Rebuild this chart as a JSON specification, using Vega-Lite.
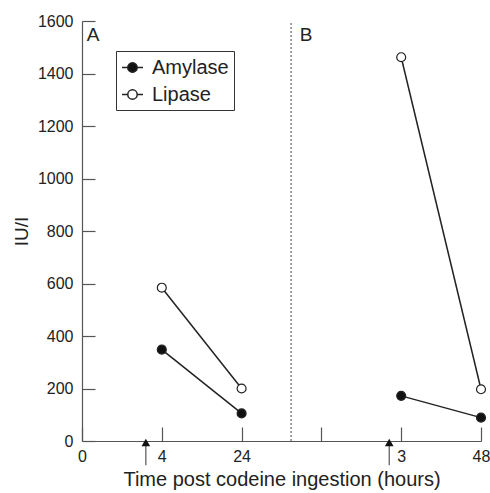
{
  "$schema": "https://vega.github.io/schema/vega-lite/v6.json",
  "width": 399,
  "height": 420,
  "autosize": {"type": "none"},
  "padding": {"left": 82, "top": 21, "right": 9, "bottom": 52},
  "background": "white",
  "config": {
    "view": {"stroke": null},
    "font": "Liberation Sans",
    "axis": {"grid": false, "labelFont": "Liberation Sans", "titleFont": "Liberation Sans", "labelColor": "#222", "titleColor": "#222", "titleFontWeight": "normal", "domainColor": "#555", "tickColor": "#555", "domainWidth": 1.2, "tickWidth": 1.2}
  },
  "datasets": {
    "enzymes": [
      {"series": "Amylase", "panel": "A", "time": "4", "slot": 1, "value": 348},
      {"series": "Amylase", "panel": "A", "time": "24", "slot": 2, "value": 105},
      {"series": "Lipase", "panel": "A", "time": "4", "slot": 1, "value": 584},
      {"series": "Lipase", "panel": "A", "time": "24", "slot": 2, "value": 200},
      {"series": "Amylase", "panel": "B", "time": "3", "slot": 4, "value": 172},
      {"series": "Amylase", "panel": "B", "time": "48", "slot": 5, "value": 89},
      {"series": "Lipase", "panel": "B", "time": "3", "slot": 4, "value": 1462},
      {"series": "Lipase", "panel": "B", "time": "48", "slot": 5, "value": 197}
    ],
    "divider": [{"slot": 2.62}],
    "arrows": [{"slot": 0.8}, {"slot": 3.85}],
    "panels": [{"label": "A", "slot": 0.06, "value": 1545}, {"label": "B", "slot": 2.73, "value": 1545}]
  },
  "layer": [
    {
      "data": {"name": "divider"},
      "mark": {"type": "rule", "strokeDash": [2, 2], "stroke": "#444", "strokeWidth": 1},
      "encoding": {
        "x": {"field": "slot", "type": "quantitative"},
        "y": {"datum": 0},
        "y2": {"datum": 1600}
      }
    },
    {
      "data": {"name": "arrows"},
      "mark": {"type": "rule", "stroke": "#555", "strokeWidth": 1.2},
      "encoding": {
        "x": {"field": "slot", "type": "quantitative"},
        "y": {"datum": -92},
        "y2": {"datum": -4}
      }
    },
    {
      "data": {"name": "arrows"},
      "mark": {"type": "point", "shape": "triangle-up", "filled": true, "color": "#111", "size": 75, "opacity": 1},
      "encoding": {
        "x": {"field": "slot", "type": "quantitative"},
        "y": {"datum": -6}
      }
    },
    {
      "data": {"name": "panels"},
      "mark": {"type": "text", "align": "left", "baseline": "middle", "fontSize": 19, "color": "#222", "font": "Liberation Sans"},
      "encoding": {
        "x": {"field": "slot", "type": "quantitative"},
        "y": {"field": "value", "type": "quantitative"},
        "text": {"field": "label"}
      }
    },
    {
      "data": {"name": "enzymes"},
      "mark": {"type": "line", "color": "#222", "strokeWidth": 1.5},
      "encoding": {
        "x": {"field": "slot", "type": "quantitative"},
        "y": {"field": "value", "type": "quantitative"},
        "detail": [{"field": "series"}, {"field": "panel"}]
      }
    },
    {
      "data": {"name": "enzymes"},
      "mark": {"type": "point", "filled": true, "stroke": "#222", "strokeWidth": 1.2, "size": 80, "opacity": 1},
      "encoding": {
        "x": {
          "field": "slot", "type": "quantitative",
          "scale": {"domain": [0, 5], "nice": false, "zero": false},
          "axis": {"title": "Time post codeine ingestion (hours)", "values": [0, 1, 2, 3, 4, 5], "labelExpr": "datum.value == 0 ? '0' : datum.value == 1 ? '4' : datum.value == 2 ? '24' : datum.value == 4 ? '3' : datum.value == 5 ? '48' : ''", "tickSize": -14, "labelPadding": 21, "labelFontSize": 16, "titleFontSize": 20, "titlePadding": 5, "labelFlush": false, "labelOverlap": false}
        },
        "y": {
          "field": "value", "type": "quantitative",
          "scale": {"domain": [0, 1600], "nice": false},
          "axis": {"title": "IU/I", "format": "d", "values": [0, 200, 400, 600, 800, 1000, 1200, 1400, 1600], "tickSize": -13, "labelPadding": 22, "labelFontSize": 16, "titleFontSize": 19, "titlePadding": 6, "labelOverlap": false}
        },
        "fill": {
          "field": "series", "type": "nominal",
          "scale": {"domain": ["Amylase", "Lipase"], "range": ["#111", "white"]},
          "legend": {"title": null, "orient": "none", "legendX": 34, "legendY": 30, "symbolType": "M-1,0L-0.45,0M0.45,0L1,0M-0.45,0A0.45,0.45,0,1,1,0.45,0A0.45,0.45,0,1,1,-0.45,0Z", "symbolSize": 441, "symbolStrokeColor": "#222", "symbolStrokeWidth": 1.5, "labelFontSize": 20, "labelFont": "Liberation Sans", "labelColor": "#222", "labelOffset": 8, "rowPadding": 5, "padding": 5, "strokeColor": "#333", "cornerRadius": 0, "fillColor": "white"}
        }
      }
    }
  ]
}
